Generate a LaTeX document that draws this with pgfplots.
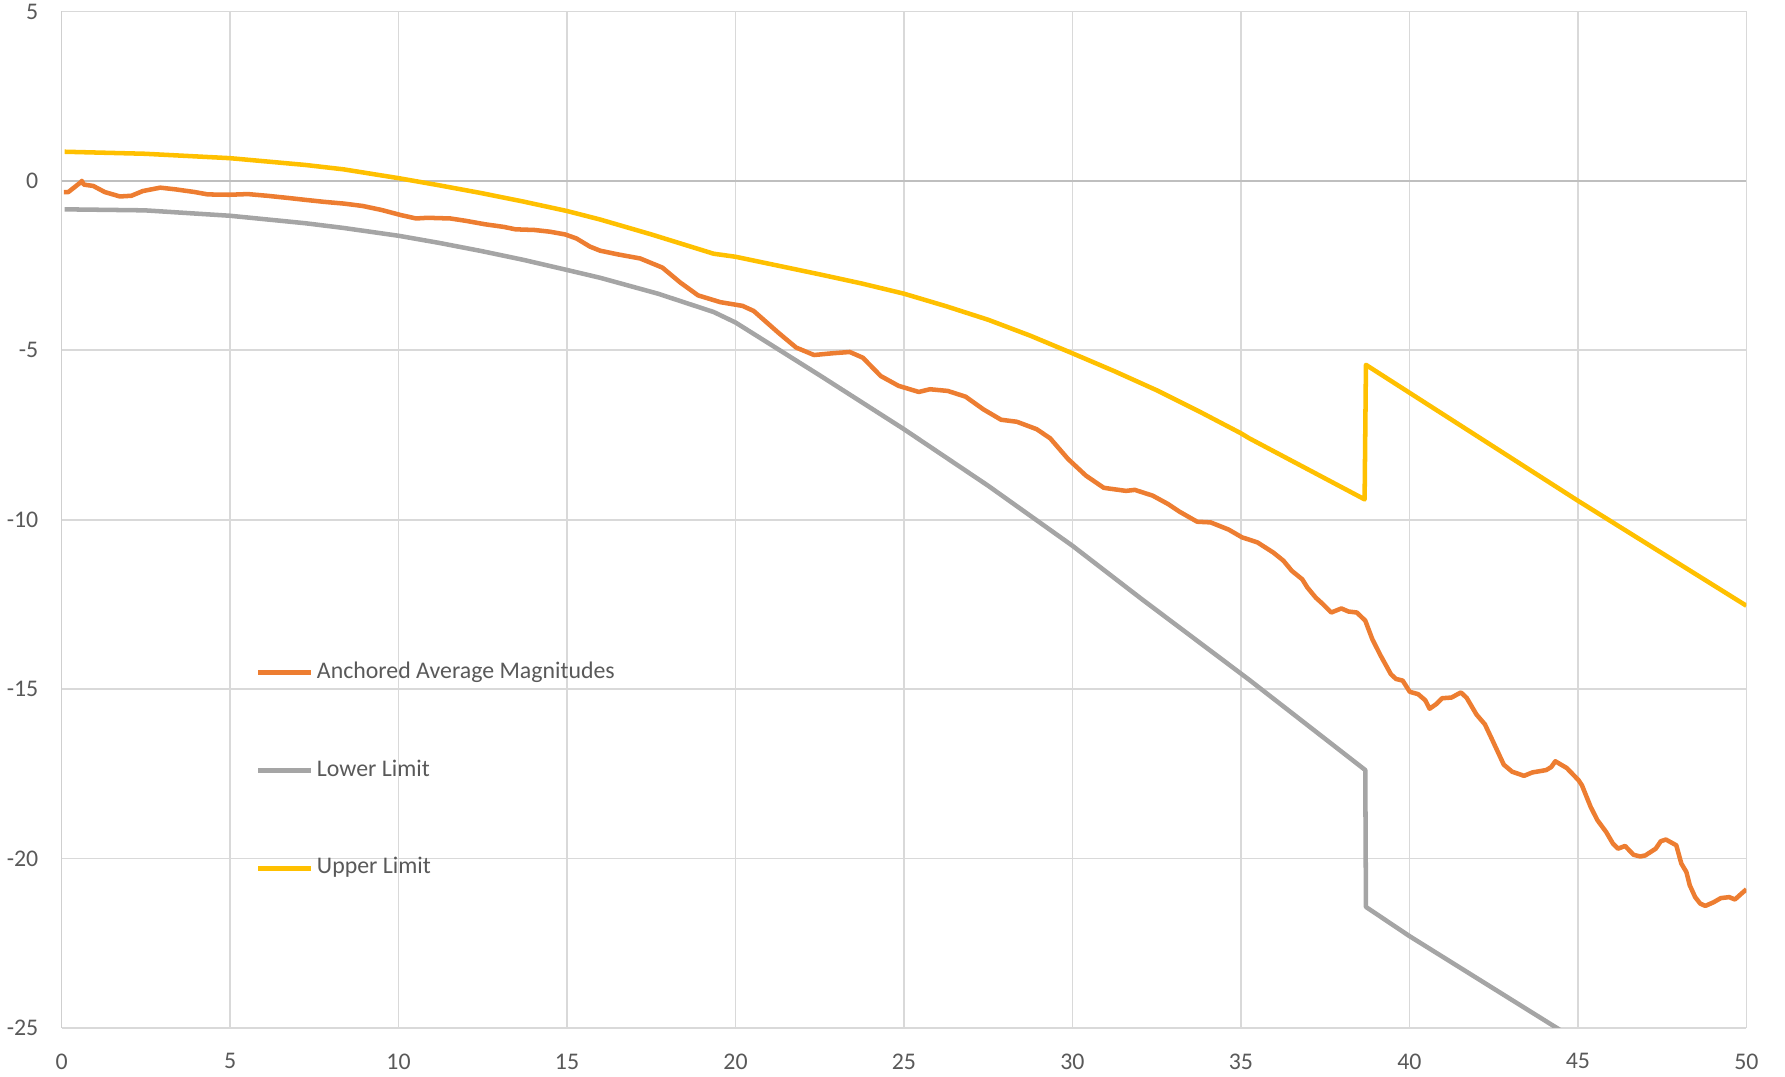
\documentclass[border=0pt]{standalone}
\usepackage{pgfplots}
\pgfplotsset{compat=1.18}
\usepackage{fontspec}
\setmainfont{Carlito}
\usetikzlibrary{calc}

\definecolor{cOrange}{HTML}{ED7D31}
\definecolor{cGray}{HTML}{A5A5A5}
\definecolor{cGold}{HTML}{FFC000}
\definecolor{cGrid}{HTML}{D9D9D9}
\definecolor{cAxis}{HTML}{BFBFBF}
\definecolor{cText}{HTML}{595959}

\begin{document}
\begin{tikzpicture}
\begin{axis}[
    name=ax,
    width=484pt, height=292pt,
    scale only axis,
    xmin=0, xmax=50, ymin=-25, ymax=5,
    xtick={0,5,...,50}, ytick={-25,-20,...,5},
    grid=major,
    major grid style={line width=0.5pt, draw=cGrid},
    axis line style={draw=none},
    tick style={draw=none},
    font=\fontsize{6.85}{8.2}\selectfont,
    tick label style={text=cText, inner sep=0pt},
    /pgf/number format/assume math mode=true,
    yticklabel style={xshift=-6.5pt},
    xticklabel style={yshift=-7.2pt},
    legend style={
        at={(axis cs:5.75,-17.40)}, anchor=west,
        draw=none, fill=none, inner sep=0pt,
        row sep=21.9pt,
        nodes={inner sep=0pt, text depth=0.15em, text=cText},
        /tikz/every odd column/.append style={column sep=1.2pt},
    },
    legend cell align=left,
    legend image code/.code={\draw[#1] (0pt,0pt) -- (15pt,0pt);},
    every axis plot/.append style={line width=1.3pt, line join=round},
]

% axis lines at x=0 and y=0
\addplot[cAxis, line width=0.5pt, forget plot] coordinates {(0,-25)(0,5)};
\addplot[cAxis, line width=0.5pt, forget plot] coordinates {(0,0)(50,0)};

% Anchored Average Magnitudes
\addplot[cOrange] coordinates {
(0.07,-0.33)(0.20,-0.33)(0.43,-0.15)(0.57,-0.04)(0.60,0.00)(0.66,-0.11)(0.94,-0.15)
(1.28,-0.33)(1.73,-0.46)(2.07,-0.44)(2.41,-0.30)(2.93,-0.20)(3.38,-0.25)(3.95,-0.33)
(4.34,-0.40)(4.97,-0.41)(5.53,-0.39)(6.10,-0.44)(6.78,-0.51)(7.23,-0.56)(7.80,-0.62)
(8.37,-0.67)(8.93,-0.74)(9.50,-0.86)(10.07,-1.01)(10.52,-1.11)(10.86,-1.09)(11.54,-1.11)
(12.00,-1.18)(12.56,-1.28)(13.13,-1.36)(13.47,-1.43)(14.04,-1.45)(14.49,-1.50)(14.94,-1.58)
(15.28,-1.70)(15.68,-1.94)(15.98,-2.06)(16.51,-2.17)(17.17,-2.29)(17.83,-2.56)(18.36,-3.00)
(18.89,-3.38)(19.55,-3.58)(20.21,-3.69)(20.54,-3.84)(21.27,-4.48)(21.80,-4.92)(22.33,-5.14)
(22.86,-5.09)(23.39,-5.05)(23.78,-5.22)(24.31,-5.76)(24.84,-6.05)(25.44,-6.23)(25.77,-6.15)
(26.30,-6.20)(26.83,-6.37)(27.35,-6.74)(27.88,-7.05)(28.35,-7.11)(28.94,-7.33)(29.34,-7.60)
(29.87,-8.21)(30.40,-8.70)(30.93,-9.06)(31.59,-9.15)(31.85,-9.12)(32.38,-9.29)(32.84,-9.54)
(33.17,-9.76)(33.70,-10.06)(34.10,-10.08)(34.63,-10.29)(35.03,-10.52)(35.49,-10.67)
(35.96,-10.97)(36.26,-11.21)(36.51,-11.51)(36.82,-11.76)(36.97,-12.00)(37.22,-12.30)
(37.43,-12.49)(37.68,-12.74)(37.98,-12.62)(38.19,-12.71)(38.44,-12.74)(38.69,-12.98)
(38.90,-13.53)(39.15,-14.02)(39.45,-14.56)(39.60,-14.70)(39.80,-14.75)(40.01,-15.08)
(40.26,-15.15)(40.47,-15.33)(40.60,-15.58)(40.80,-15.44)(40.97,-15.27)(41.25,-15.25)
(41.45,-15.14)(41.53,-15.10)(41.70,-15.26)(41.99,-15.75)(42.24,-16.04)(42.44,-16.46)
(42.80,-17.23)(43.05,-17.44)(43.20,-17.49)(43.40,-17.56)(43.65,-17.46)(44.06,-17.39)
(44.21,-17.30)(44.33,-17.13)(44.67,-17.33)(45.02,-17.69)(45.12,-17.84)(45.38,-18.48)
(45.58,-18.87)(45.84,-19.22)(46.04,-19.56)(46.19,-19.71)(46.40,-19.63)(46.65,-19.89)
(46.85,-19.94)(47.00,-19.91)(47.31,-19.71)(47.46,-19.49)(47.61,-19.44)(47.92,-19.61)
(48.07,-20.15)(48.22,-20.40)(48.32,-20.79)(48.48,-21.14)(48.63,-21.33)(48.78,-21.40)
(49.03,-21.29)(49.24,-21.17)(49.49,-21.14)(49.66,-21.21)(49.85,-21.04)(50.00,-20.91)
};
\addlegendentry{Anchored Average Magnitudes}

% Lower Limit
\addplot[cGray] coordinates {
(0.09,-0.84)(2.47,-0.87)(5,-1.03)(7.23,-1.25)(8.37,-1.39)(10,-1.62)(11.2,-1.83)
(12.45,-2.07)(13.7,-2.33)(15,-2.63)(15.98,-2.86)(17.7,-3.33)(19.35,-3.87)(20,-4.18)
(22.5,-5.74)(25,-7.33)(27.5,-9.00)(30,-10.77)(32.05,-12.34)(35.25,-14.73)
(38.69,-17.39)(38.71,-21.43)(40,-22.29)(44.42,-25.03)(50,-28.6)
};
\addlegendentry{Lower Limit}

% Upper Limit
\addplot[cGold] coordinates {
(0.09,0.86)(2.47,0.80)(5,0.67)(7.23,0.47)(8.37,0.34)(10,0.08)(11.2,-0.13)(12.45,-0.36)
(13.7,-0.61)(15,-0.89)(15.98,-1.14)(17.5,-1.58)(19.35,-2.15)(20,-2.24)(21.25,-2.50)
(22.5,-2.76)(23.75,-3.03)(25,-3.33)(26.25,-3.70)(27.5,-4.10)(28.75,-4.57)(30,-5.09)
(31.25,-5.62)(32.5,-6.18)(33.75,-6.80)(35,-7.45)(35.25,-7.60)(38.67,-9.40)
(38.71,-5.43)(45,-9.44)(50,-12.54)
};
\addlegendentry{Upper Limit}

\end{axis}
\path ($(ax.south west)+(-17.7pt,-14.1pt)$) rectangle ($(ax.north east)+(11.1pt,3.3pt)$);
\end{tikzpicture}
\end{document}
